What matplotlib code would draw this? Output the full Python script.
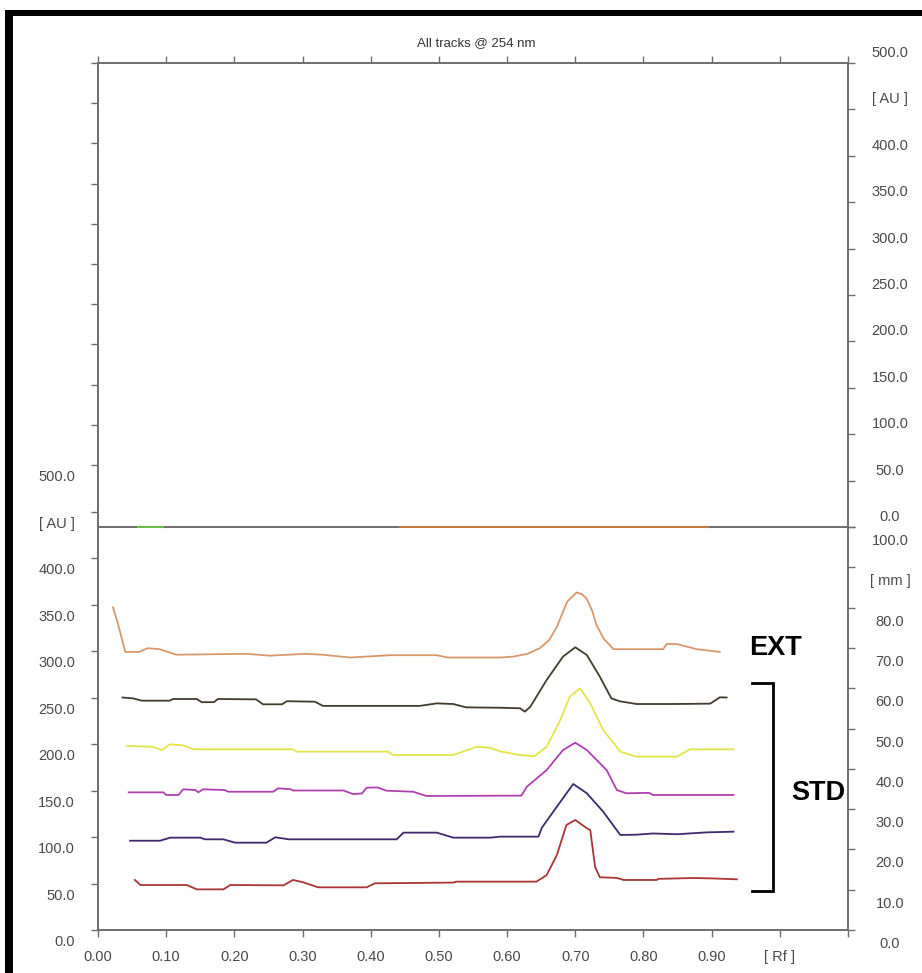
import numpy as np
import matplotlib
matplotlib.use('Agg')
import matplotlib.pyplot as plt
from matplotlib.patches import Rectangle
from matplotlib.transforms import ScaledTranslation, blended_transform_factory

plt.rcParams['font.family'] = ['Liberation Sans', 'DejaVu Sans']

# ===================== data =====================
title = "All tracks @ 254 nm"

rf_ticks = [0.0, 0.1, 0.2, 0.3, 0.4, 0.5, 0.6, 0.7, 0.8, 0.9, 1.0, 1.1]
rf_labels = ["0.00", "0.10", "0.20", "0.30", "0.40", "0.50", "0.60", "0.70", "0.80", "0.90", "[ Rf ]"]

au_ticks = [0, 50, 100, 150, 200, 250, 300, 350, 400, 450, 500]
au_labels = ["0.0", "50.0", "100.0", "150.0", "200.0", "250.0", "300.0", "350.0", "400.0", "[ AU ]", "500.0"]

mm_ticks = [0, 10, 20, 30, 40, 50, 60, 70, 80, 90, 100]
mm_labels = ["0.0", "10.0", "20.0", "30.0", "40.0", "50.0", "60.0", "70.0", "80.0", "[ mm ]", "100.0"]

# lower panel scale (AU) : top of frame and divider line
Y_TOP = 932.3
Y_MID = 433.3

# EXT track
ext_rf = [0.022, 0.029, 0.040, 0.060, 0.073, 0.090, 0.115, 0.218, 0.252, 0.304, 0.330, 0.370, 0.428,
          0.497, 0.513, 0.590, 0.609, 0.630, 0.648, 0.662, 0.673, 0.688, 0.702, 0.710, 0.717, 0.725,
          0.731, 0.742, 0.756, 0.829, 0.834, 0.849, 0.878, 0.912]
ext_au = [347, 330, 299, 299, 303, 302, 296, 297, 295, 297, 296, 293, 295.5,
          295.5, 293, 293, 294, 297, 303, 312, 326, 353, 363, 361, 356, 343,
          328, 313, 302, 302, 307.5, 307.5, 302, 299]

# STD tracks
std1_rf = [0.036, 0.052, 0.064, 0.105, 0.110, 0.145, 0.152, 0.170, 0.176, 0.232, 0.242, 0.270, 0.277,
           0.318, 0.330, 0.472, 0.497, 0.521, 0.540, 0.590, 0.619, 0.626, 0.634, 0.658, 0.682, 0.700,
           0.717, 0.736, 0.753, 0.765, 0.790, 0.844, 0.898, 0.912, 0.922]
std1_au = [250, 249, 246.6, 246.6, 248.4, 248.4, 245, 245, 248.4, 248, 242.7, 242.7, 246,
           245.5, 241, 241, 243.7, 243, 239.4, 239, 238.4, 234.8, 240, 268.8, 294, 304,
           295.7, 272.4, 249, 246, 243, 243, 243.4, 250.2, 250]

std2_rf = [0.042, 0.080, 0.093, 0.106, 0.125, 0.140, 0.286, 0.291, 0.425, 0.433, 0.521, 0.540, 0.555,
           0.575, 0.590, 0.620, 0.640, 0.658, 0.678, 0.692, 0.707, 0.722, 0.741, 0.766, 0.790, 0.849,
           0.868, 0.932]
std2_au = [198, 197, 193.5, 199.7, 198.5, 194.3, 194.3, 191.8, 191.8, 188.2, 188.2, 193, 197,
           196, 192, 188, 187, 197, 225.8, 250.9, 259.9, 243.7, 215, 191.8, 186.4, 186.4,
           194.3, 194.3]

std3_rf = [0.045, 0.096, 0.100, 0.118, 0.125, 0.143, 0.147, 0.154, 0.186, 0.191, 0.257, 0.264, 0.282,
           0.286, 0.360, 0.374, 0.387, 0.394, 0.410, 0.423, 0.462, 0.482, 0.621, 0.629, 0.658, 0.682,
           0.700, 0.717, 0.746, 0.761, 0.775, 0.808, 0.814, 0.932]
std3_au = [148, 148, 145.2, 145.2, 151.3, 150.5, 148, 151.3, 150.5, 148.7, 148.7, 152.3, 151.5,
           150, 150, 146.2, 146.8, 153, 153.3, 149.8, 148.7, 144.1, 144.5, 154.1, 172, 193.5,
           201.4, 193.5, 172, 150.5, 147, 147.5, 145.2, 145.2]

std4_rf = [0.047, 0.091, 0.106, 0.150, 0.157, 0.184, 0.201, 0.247, 0.260, 0.280, 0.438, 0.448, 0.497,
           0.521, 0.575, 0.590, 0.646, 0.651, 0.673, 0.697, 0.717, 0.741, 0.766, 0.790, 0.814, 0.850,
           0.893, 0.932]
std4_au = [96, 96, 99.3, 99.3, 97.5, 97.5, 93.9, 93.9, 99.7, 97.5, 97.5, 104.7, 104.7,
           99.3, 99.3, 100.4, 100.4, 110, 132.6, 157, 147, 127.2, 102.2, 102.5, 103.8, 103,
           105, 105.7]

std5_rf = [0.054, 0.060, 0.062, 0.110, 0.130, 0.145, 0.184, 0.194, 0.272, 0.286, 0.300, 0.323, 0.394,
           0.406, 0.521, 0.526, 0.643, 0.658, 0.673, 0.687, 0.700, 0.717, 0.722, 0.729, 0.736, 0.761,
           0.771, 0.819, 0.822, 0.873, 0.900, 0.937]
std5_au = [53.8, 50, 48.4, 48.4, 48.4, 43.7, 43.7, 48.4, 48, 53.8, 51.5, 45.9, 45.9,
           50.2, 51, 52, 52, 59, 80.6, 112.9, 118.3, 109.4, 107.5, 68, 56.7, 56,
           53.8, 53.8, 55, 55.9, 55.5, 54.5]

track_colors = ['#d9986a', '#433b2c', '#e4e44a', '#b040b0', '#40286e', '#ac3434']

# upper panel baseline traces (on 0 AU)
upper_rf = [[0.443, 0.895], [0.058, 0.095]]
upper_colors = ['#c87a3a', '#6cc04a']

# ===================== figure =====================
W, H = 922, 973
AX_COLOR = '#6e6e6e'
TXT_COLOR = '#4a4a4a'
lab_kw = dict(fontsize=10.5, color=TXT_COLOR)

fig = plt.figure(figsize=(W / 100, H / 100), dpi=100)
fig.patch.set_facecolor('white')

ax = fig.add_axes([98 / W, 1 - 930 / H, 750 / W, 867 / H])
ax.set_xlim(0, 1.1)
ax.set_ylim(0, Y_TOP)
for s in ax.spines.values():
    s.set_color(AX_COLOR)
    s.set_linewidth(1.4)

# right side scales
ax_ru = ax.twinx()
ax_ru.set_ylim(-Y_MID * 500 / (Y_TOP - Y_MID), 500)
ax_rl = ax.twinx()
ax_rl.set_ylim(0, Y_TOP * 100 / Y_MID)
for a in (ax_ru, ax_rl):
    for s in a.spines.values():
        s.set_visible(False)

# ticks
ax.set_xticks(rf_ticks)
left_ticks = list(au_ticks) + list(np.linspace(500, Y_TOP, 11)[1:])
ax.set_yticks(left_ticks)
ax.tick_params(axis='x', top=True, bottom=True, direction='out', length=5, width=1,
               color=AX_COLOR, labelbottom=False, labeltop=False)
ax.tick_params(axis='y', left=True, right=False, direction='out', length=5, width=1,
               color=AX_COLOR, labelleft=False, labelright=False)
ax_ru.set_yticks(au_ticks)
ax_rl.set_yticks(mm_ticks)
for a in (ax_ru, ax_rl):
    a.tick_params(axis='y', right=True, left=False, direction='out', length=5, width=1,
                  color=AX_COLOR, labelright=False, labelleft=False)


def off(dx, dy):
    return ScaledTranslation(dx / 100, dy / 100, fig.dpi_scale_trans)


# tick labels
tr = blended_transform_factory(ax.transData, ax.transAxes) + off(0, -27)
for v, s in zip(rf_ticks, rf_labels):
    ax.text(v, 0, s, transform=tr, ha='center', va='center', **lab_kw)

tr = blended_transform_factory(ax.transAxes, ax.transData) + off(-23, -12)
for v, s in zip(au_ticks, au_labels):
    ax.text(0, v, s, transform=tr, ha='right', va='center', **lab_kw)

tr = blended_transform_factory(ax_ru.transAxes, ax_ru.transData) + off(42, 10)
for v, s in zip(au_ticks, au_labels):
    ax_ru.text(1, v, s, transform=tr, ha='center', va='center', **lab_kw)

tr = blended_transform_factory(ax_rl.transAxes, ax_rl.transData) + off(42, -14)
for v, s in zip(mm_ticks, mm_labels):
    ax_rl.text(1, v, s, transform=tr, ha='center', va='center', **lab_kw)

# divider between the two panels
ax.axhline(Y_MID, color=AX_COLOR, lw=1.4)
for xs, c in zip(upper_rf, upper_colors):
    ax_ru.plot(xs, [0, 0], color=c, lw=1.5)

# tracks
tracks = [(ext_rf, ext_au), (std1_rf, std1_au), (std2_rf, std2_au),
          (std3_rf, std3_au), (std4_rf, std4_au), (std5_rf, std5_au)]
for (x, y), c in zip(tracks, track_colors):
    ax.plot(x, y, color=c, lw=1.3)

# EXT / STD annotation
ax.text(0.994, 303, "EXT", ha='center', va='center', fontsize=19.5, fontweight='bold',
        color='black')
ax.text(1.056, 147, "STD", ha='center', va='center', fontsize=19.5, fontweight='bold',
        color='black')
ax.plot([0.959, 0.990, 0.990, 0.959], [265.6, 265.6, 42.3, 42.3], color='black', lw=2,
        solid_joinstyle='miter', clip_on=False)

fig.text(476.5 / W, 1 - 43 / H, title, ha='center', va='center', fontsize=9.5, color='#333333')

# black frame at top and left
fig.add_artist(Rectangle((7 / W, 1 - 16 / H), 915 / W, 6 / H, transform=fig.transFigure,
                         color='black', lw=0))
fig.add_artist(Rectangle((5 / W, 0), 8 / W, 1 - 10 / H, transform=fig.transFigure,
                         color='black', lw=0))

fig.savefig('out.png', dpi=100)
